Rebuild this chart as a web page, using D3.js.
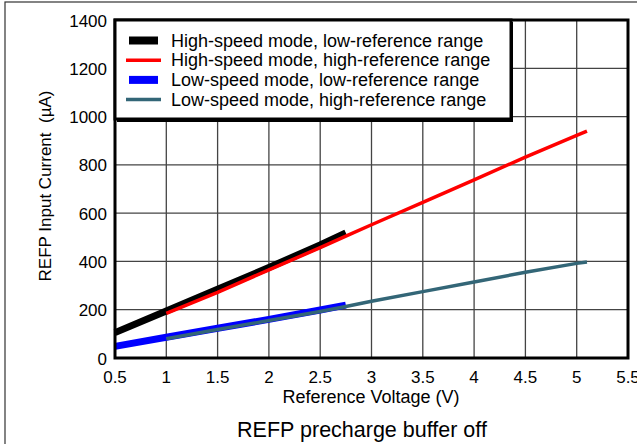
<!DOCTYPE html>
<html>
<head>
<meta charset="utf-8">
<script src="https://cdn.jsdelivr.net/npm/d3@7"></script>
<style>
  body { margin: 0; background: #fff; }
  text { font-family: "Liberation Sans", Arial, sans-serif; fill: #000; white-space: pre; }
</style>
</head>
<body>
<div id="app"></div>
<script>
// data
let xTicks = [0.5, 1, 1.5, 2, 2.5, 3, 3.5, 4, 4.5, 5, 5.5]
let yTicks = [0, 200, 400, 600, 800, 1000, 1200, 1400]

let hsLowV = [0.5, 1, 1.5, 2, 2.5, 2.75]
let hsLowI = [105, 195, 285, 375, 468, 518]
let hsHighV = [1, 1.5, 2, 2.5, 2.75, 3, 3.5, 4, 4.5, 5, 5.1]
let hsHighI = [185, 272, 365, 457, 505, 552, 645, 738, 832, 922, 940]
let lsLowV = [0.5, 1, 1.5, 2, 2.5, 2.75]
let lsLowI = [48, 86, 123, 160, 199, 219]
let lsHighV = [1, 1.5, 2, 2.5, 2.75, 3, 3.5, 4, 4.5, 5, 5.1]
let lsHighI = [80, 118, 155, 193, 213, 235, 275, 315, 355, 392, 398]

let legendLabels = [
  "High-speed mode, low-reference range",
  "High-speed mode, high-reference range",
  "Low-speed mode, low-reference range",
  "Low-speed mode, high-reference range"
]

let series = [
  {v: hsLowV, i: hsLowI, color: "#000000", w: 7},
  {v: hsHighV, i: hsHighI, color: "#ff0000", w: 3.5},
  {v: lsLowV, i: lsLowI, color: "#0000ff", w: 7},
  {v: lsHighV, i: lsHighI, color: "#336677", w: 3.5}
]

let width = 637, height = 444
let margin = {top: 20, right: 9, bottom: 86, left: 115}
let pw = width - margin.left - margin.right
let ph = height - margin.top - margin.bottom

let svg = d3.select("#app").append("svg")
    .attr("width", width)
    .attr("height", height)

// outer frame
svg.append("rect")
    .attr("x", 5).attr("y", 2)
    .attr("width", 700).attr("height", 500)
    .attr("fill", "none").attr("stroke", "#333").attr("stroke-width", 1.2)

let x = d3.scaleLinear().domain([0.5, 5.5]).range([margin.left, margin.left + pw])
let y = d3.scaleLinear().domain([0, 1400]).range([margin.top + ph, margin.top])

// grid
let grid = svg.append("g")
grid.selectAll("line.vx")
    .data(xTicks.slice(1, -1))
    .enter().append("line")
    .attr("x1", d => x(d)).attr("x2", d => x(d))
    .attr("y1", y(0)).attr("y2", y(1400))
    .attr("stroke", "#444").attr("stroke-width", 1.3)
grid.selectAll("line.hy")
    .data(yTicks.slice(1, -1))
    .enter().append("line")
    .attr("x1", x(0.5)).attr("x2", x(5.5))
    .attr("y1", d => y(d)).attr("y2", d => y(d))
    .attr("stroke", "#444").attr("stroke-width", 1.3)

// tick labels
svg.append("g").selectAll("text")
    .data(xTicks)
    .enter().append("text")
    .attr("x", d => x(d))
    .attr("y", y(0) + 25)
    .attr("text-anchor", "middle")
    .attr("font-size", 17)
    .text(d => d)

svg.append("g").selectAll("text")
    .data(yTicks)
    .enter().append("text")
    .attr("x", x(0.5) - 8)
    .attr("y", d => y(d) + 6.5)
    .attr("text-anchor", "end")
    .attr("font-size", 17)
    .text(d => d)

// lines
let line = d3.line()
series.forEach(s => {
  svg.append("path")
      .datum(s.v.map((v, k) => [x(v), y(s.i[k])]))
      .attr("d", line)
      .attr("fill", "none")
      .attr("stroke", s.color)
      .attr("stroke-width", s.w)
})

// plot frame
svg.append("rect")
    .attr("x", x(0.5)).attr("y", y(1400))
    .attr("width", pw).attr("height", ph)
    .attr("fill", "none").attr("stroke", "#000").attr("stroke-width", 3)

// legend
let lg = svg.append("g")
lg.append("rect")
    .attr("x", x(0.5) + 2).attr("y", y(1400) + 2)
    .attr("width", 396).attr("height", 100)
    .attr("fill", "#000")
lg.append("rect")
    .attr("x", x(0.5)).attr("y", y(1400))
    .attr("width", 396).attr("height", 99)
    .attr("fill", "#fff").attr("stroke", "#000").attr("stroke-width", 3)

let rows = lg.selectAll("g.row")
    .data(legendLabels)
    .enter().append("g")
    .attr("transform", (d, k) => `translate(0,${40.5 + k * 19.7})`)
rows.append("line")
    .attr("x1", (d, k) => series[k].w > 5 ? 129 : 126)
    .attr("x2", (d, k) => series[k].w > 5 ? 158 : 161)
    .attr("stroke", (d, k) => series[k].color)
    .attr("stroke-width", (d, k) => series[k].w > 5 ? 8 : 3.5)
rows.append("text")
    .attr("x", 171)
    .attr("y", 6)
    .attr("font-size", 18)
    .text(d => d)

// axis titles
svg.append("text")
    .attr("transform", "translate(51,186) rotate(-90)")
    .attr("text-anchor", "middle")
    .attr("font-size", 17)
    .text("REFP Input Current  (\u00b5A)")

svg.append("text")
    .attr("x", 371)
    .attr("y", 403)
    .attr("text-anchor", "middle")
    .attr("font-size", 18)
    .text("Reference Voltage (V)")

svg.append("text")
    .attr("x", 362)
    .attr("y", 437)
    .attr("text-anchor", "middle")
    .attr("font-size", 21.5)
    .text("REFP precharge buffer off")
</script>
</body>
</html>
